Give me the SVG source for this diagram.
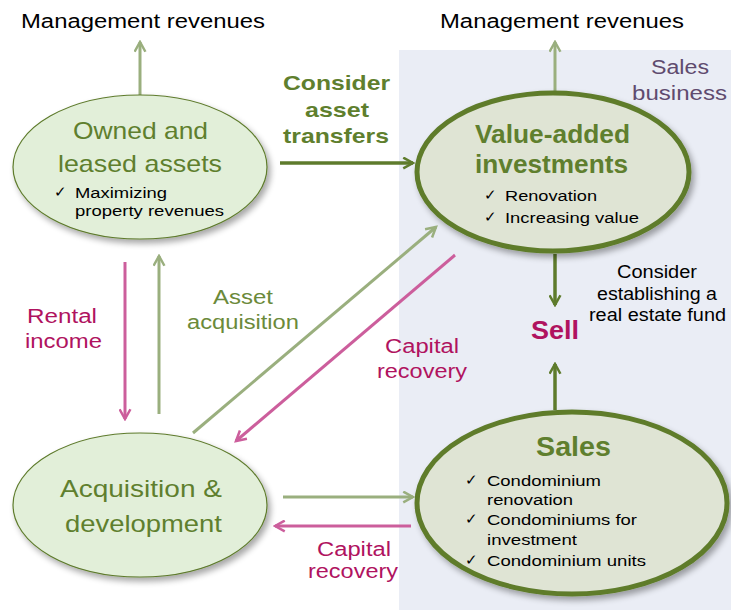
<svg xmlns="http://www.w3.org/2000/svg" width="731" height="610" viewBox="0 0 731 610">
  <defs>
    <filter id="shadow" x="-20%" y="-20%" width="150%" height="150%">
      <feGaussianBlur in="SourceAlpha" stdDeviation="3"/>
      <feOffset dx="3" dy="4" result="b"/>
      <feComponentTransfer><feFuncA type="linear" slope="0.35"/></feComponentTransfer>
      <feMerge><feMergeNode/><feMergeNode in="SourceGraphic"/></feMerge>
    </filter>
    <marker id="headLight" viewBox="0 0 12 12" refX="10" refY="6" markerWidth="13" markerHeight="13" markerUnits="userSpaceOnUse" orient="auto">
      <path d="M1,1 L10,6 L1,11" fill="none" stroke="#9aaf7e" stroke-width="2.3"/>
    </marker>
    <marker id="headPink" viewBox="0 0 12 12" refX="10" refY="6" markerWidth="13" markerHeight="13" markerUnits="userSpaceOnUse" orient="auto">
      <path d="M1,1 L10,6 L1,11" fill="none" stroke="#cc5e9c" stroke-width="2.3"/>
    </marker>
    <marker id="headDark" viewBox="0 0 12 12" refX="10" refY="6" markerWidth="13" markerHeight="13" markerUnits="userSpaceOnUse" orient="auto">
      <path d="M1,1 L10,6 L1,11" fill="none" stroke="#5e7b2c" stroke-width="2.3"/>
    </marker>
  </defs>
  <style>
    text { font-family: "Liberation Sans", Arial, sans-serif; }
    .light { stroke: #9aaf7e; stroke-width: 3; fill: none; marker-end: url(#headLight); }
    .pink { stroke: #cc5e9c; stroke-width: 3; fill: none; marker-end: url(#headPink); }
    .dark { stroke: #5e7b2c; stroke-width: 3.5; fill: none; marker-end: url(#headDark); }
    .thin { fill: #e2efd9; stroke: #5e7b2c; stroke-width: 1.2; }
    .thick { fill: #dfe4d4; stroke: #5e7b2c; stroke-width: 5; }
    .head { fill: #5f7f2e; font-size: 24px; }
    .headB { fill: #5f7f2e; font-size: 25px; font-weight: bold; }
    .item { fill: #000; font-size: 15.5px; }
    .chk { fill: #000; font-size: 15px; font-family: "DejaVu Sans", sans-serif; font-weight: 200; }
    .mag { fill: #b0135f; font-size: 20px; }
    .lab { fill: #6b8a3a; font-size: 20px; }
    .blk { fill: #000; font-size: 20px; }
    .note { fill: #000; font-size: 17.5px; }
    .bizz { fill: #5f4b6f; font-size: 20px; }
    .xfer { fill: #5f7f2e; font-size: 21px; font-weight: bold; }
  </style>

  <!-- sales business area -->
  <rect x="399" y="50" width="332" height="560" fill="#eaedf5"/>
  <text class="bizz" x="651" y="74" textLength="58" lengthAdjust="spacingAndGlyphs">Sales</text>
  <text class="bizz" x="632" y="100" textLength="95" lengthAdjust="spacingAndGlyphs">business</text>

  <!-- free labels -->
  <text class="blk" x="21" y="28" textLength="244" lengthAdjust="spacingAndGlyphs">Management revenues</text>
  <text class="blk" x="440" y="28" textLength="244" lengthAdjust="spacingAndGlyphs">Management revenues</text>
  <text class="xfer" x="283" y="90" textLength="107" lengthAdjust="spacingAndGlyphs">Consider</text>
  <text class="xfer" x="305" y="117" textLength="64" lengthAdjust="spacingAndGlyphs">asset</text>
  <text class="xfer" x="283" y="143" textLength="106" lengthAdjust="spacingAndGlyphs">transfers</text>
  <text class="mag" x="27" y="323" textLength="70" lengthAdjust="spacingAndGlyphs">Rental</text>
  <text class="mag" x="25" y="348" textLength="77" lengthAdjust="spacingAndGlyphs">income</text>
  <text class="lab" x="213" y="304" textLength="60" lengthAdjust="spacingAndGlyphs">Asset</text>
  <text class="lab" x="187" y="329" textLength="112" lengthAdjust="spacingAndGlyphs">acquisition</text>
  <text class="mag" x="385" y="353" textLength="74" lengthAdjust="spacingAndGlyphs">Capital</text>
  <text class="mag" x="377" y="378" textLength="90" lengthAdjust="spacingAndGlyphs">recovery</text>
  <text class="mag" x="317" y="556" textLength="74" lengthAdjust="spacingAndGlyphs">Capital</text>
  <text class="mag" x="308" y="578" textLength="90" lengthAdjust="spacingAndGlyphs">recovery</text>
  <text x="531" y="339" font-size="26" font-weight="bold" fill="#b0135f" textLength="48" lengthAdjust="spacingAndGlyphs">Sell</text>
  <text class="note" x="617" y="278" textLength="80" lengthAdjust="spacingAndGlyphs">Consider</text>
  <text class="note" x="597" y="300" textLength="120" lengthAdjust="spacingAndGlyphs">establishing a</text>
  <text class="note" x="589" y="321" textLength="137" lengthAdjust="spacingAndGlyphs">real estate fund</text>

  <!-- connectors -->
  <g id="connectors">
    <line class="light" x1="140" y1="96" x2="140" y2="42"/>
    <line class="light" x1="555" y1="92" x2="555" y2="42"/>
    <line class="dark" x1="280" y1="163" x2="413" y2="163"/>
    <line class="pink" x1="125" y1="262" x2="125" y2="419"/>
    <line class="light" x1="159" y1="414" x2="159" y2="256"/>
    <line class="light" x1="193" y1="433" x2="436" y2="227"/>
    <line class="pink" x1="455" y1="255" x2="236" y2="441"/>
    <line class="light" x1="283" y1="497" x2="413" y2="497"/>
    <line class="pink" x1="411" y1="526" x2="275" y2="526"/>
    <line class="dark" x1="555" y1="254" x2="555" y2="305"/>
    <line class="dark" x1="555" y1="410" x2="555" y2="364"/>
  </g>

  <g id="owned">
    <ellipse class="thin" cx="140" cy="167" rx="127" ry="72" filter="url(#shadow)"/>
    <text class="head" x="73" y="139" textLength="135" lengthAdjust="spacingAndGlyphs">Owned and</text>
    <text class="head" x="58" y="172" textLength="164" lengthAdjust="spacingAndGlyphs">leased assets</text>
    <text class="chk" x="54" y="197">✓</text>
    <text class="item" x="75" y="198" textLength="92" lengthAdjust="spacingAndGlyphs">Maximizing</text>
    <text class="item" x="75" y="216" textLength="149" lengthAdjust="spacingAndGlyphs">property revenues</text>
  </g>

  <g id="value-added">
    <ellipse class="thick" cx="553" cy="172" rx="136" ry="79" filter="url(#shadow)"/>
    <text class="headB" x="475" y="143" textLength="155" lengthAdjust="spacingAndGlyphs">Value-added</text>
    <text class="headB" x="475" y="173" textLength="153" lengthAdjust="spacingAndGlyphs">investments</text>
    <text class="chk" x="484" y="200">✓</text>
    <text class="item" x="505" y="201" textLength="92" lengthAdjust="spacingAndGlyphs">Renovation</text>
    <text class="chk" x="484" y="222">✓</text>
    <text class="item" x="505" y="223" textLength="134" lengthAdjust="spacingAndGlyphs">Increasing value</text>
  </g>

  <g id="acquisition">
    <ellipse class="thin" cx="140" cy="505" rx="127" ry="72" filter="url(#shadow)"/>
    <text class="head" x="60" y="497" textLength="162" lengthAdjust="spacingAndGlyphs">Acquisition &amp;</text>
    <text class="head" x="65" y="532" textLength="157" lengthAdjust="spacingAndGlyphs">development</text>
  </g>

  <g id="sales">
    <ellipse class="thick" cx="572" cy="503" rx="155" ry="91" filter="url(#shadow)"/>
    <text x="536" y="456" font-size="27" font-weight="bold" fill="#5f7f2e" textLength="75" lengthAdjust="spacingAndGlyphs">Sales</text>
    <text class="chk" x="465" y="485">✓</text>
    <text class="item" x="487" y="486" textLength="114" lengthAdjust="spacingAndGlyphs">Condominium</text>
    <text class="item" x="487" y="505" textLength="86" lengthAdjust="spacingAndGlyphs">renovation</text>
    <text class="chk" x="465" y="524">✓</text>
    <text class="item" x="487" y="525" textLength="150" lengthAdjust="spacingAndGlyphs">Condominiums for</text>
    <text class="item" x="487" y="545" textLength="90" lengthAdjust="spacingAndGlyphs">investment</text>
    <text class="chk" x="465" y="565">✓</text>
    <text class="item" x="487" y="566" textLength="159" lengthAdjust="spacingAndGlyphs">Condominium units</text>
  </g>
</svg>
